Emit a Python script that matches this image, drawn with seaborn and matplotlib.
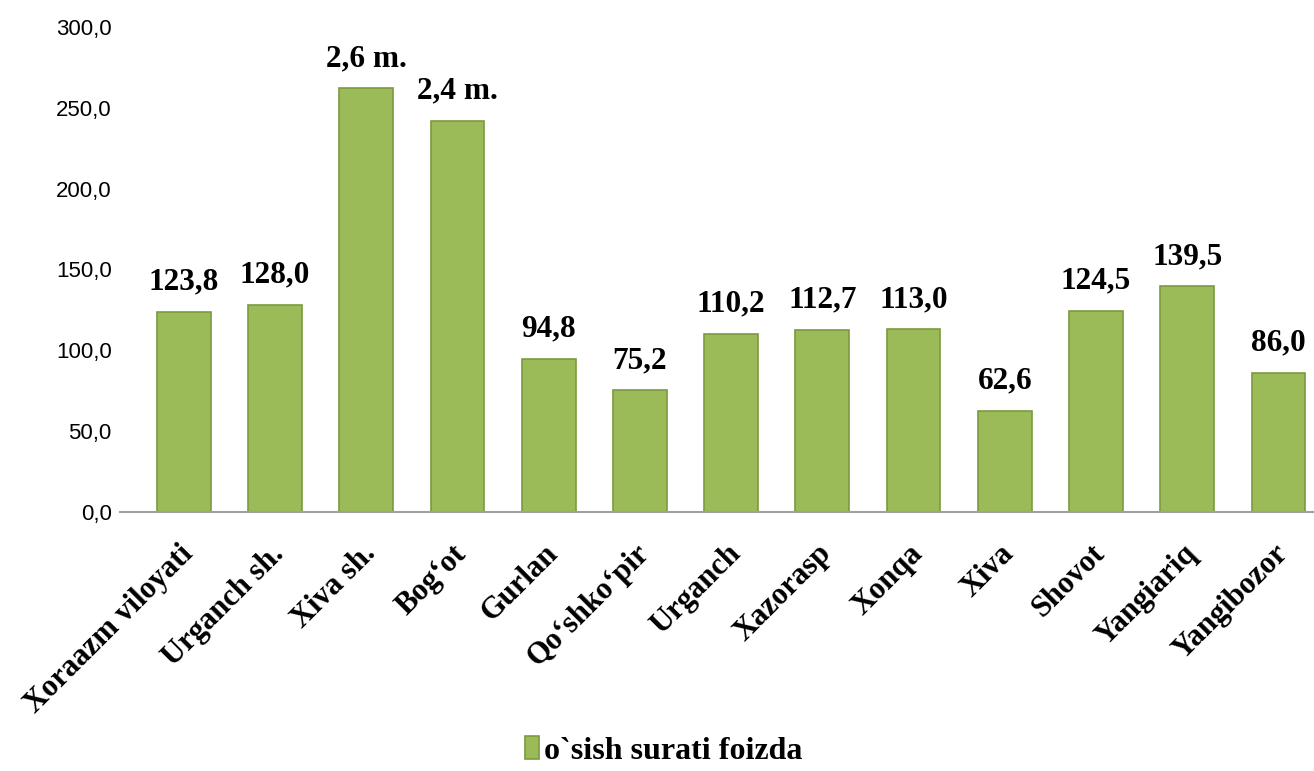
import pandas as pd
import seaborn as sns
import matplotlib.pyplot as plt
from matplotlib.patches import Patch
from matplotlib.ticker import FuncFormatter
from matplotlib.transforms import ScaledTranslation

regions = ["Xoraazm viloyati", "Urganch sh.", "Xiva sh.", "Bog‘ot", "Gurlan",
           "Qo‘shko‘pir", "Urganch", "Xazorasp", "Xonqa", "Xiva", "Shovot",
           "Yangiariq", "Yangibozor"]
growth = [123.8, 128.0, 262.0, 242.0, 94.8, 75.2, 110.2, 112.7, 113.0, 62.6,
          124.5, 139.5, 86.0]
bar_labels = ["123,8", "128,0", "2,6 m.", "2,4 m.", "94,8", "75,2", "110,2",
              "112,7", "113,0", "62,6", "124,5", "139,5", "86,0"]
series_name = "o`sish surati foizda"

df = pd.DataFrame({"region": regions, "growth": growth})

sns.set_style("white")
plt.rcParams['font.family'] = ['Liberation Serif', 'DejaVu Serif']
plt.rcParams['text.color'] = 'black'
plt.rcParams['xtick.color'] = 'black'
plt.rcParams['ytick.color'] = 'black'

fig = plt.figure(figsize=(13.14, 7.71), dpi=100)
ax = fig.add_axes([0.0913, 0.336, 0.9087, 0.629])

green = "#9BBB59"
edge = "#7A9A3E"
sns.barplot(data=df, x="region", y="growth", color=green, edgecolor=edge,
            linewidth=1.2, width=0.59, saturation=1, ax=ax)

ax.set_ylim(0, 300)
ax.set_yticks(range(0, 301, 50))
ax.yaxis.set_major_formatter(FuncFormatter(lambda v, p: f"{v:.1f}".replace(".", ",")))
for lab in ax.get_yticklabels():
    lab.set_fontfamily(['Liberation Sans', 'DejaVu Sans'])
    lab.set_fontsize(16)
    lab.set_color("black")
ax.tick_params(axis="y", length=0, pad=6)
ax.tick_params(axis="x", length=0, pad=27)

ax.set_xticks(range(len(regions)))
ax.set_xticklabels(regions, rotation=45, ha="right", va="center",
                   rotation_mode="anchor", fontsize=22, fontweight="bold")
shift = ScaledTranslation(0.05, 0, fig.dpi_scale_trans)
for lab in ax.get_xticklabels():
    lab.set_transform(lab.get_transform() + shift)

for s in ["top", "right", "left"]:
    ax.spines[s].set_visible(False)
ax.spines["bottom"].set_color("#A0A0A0")
ax.spines["bottom"].set_linewidth(1.5)
ax.set_xlabel("")
ax.set_ylabel("")
ax.set_xlim(-0.70, len(regions) - 0.61)

for i, (v, t) in enumerate(zip(growth, bar_labels)):
    ax.annotate(t, (i, v), xytext=(0, 11), textcoords="offset points",
                ha="center", va="bottom", fontsize=22.5, fontweight="bold")

handle = Patch(facecolor=green, edgecolor=edge, linewidth=1.2)
fig.legend([handle], [series_name], loc="center", bbox_to_anchor=(0.505, 0.026),
           frameon=False, prop={"size": 23, "weight": "bold"},
           handlelength=0.45, handleheight=0.75, handletextpad=0.15,
           borderpad=0.1)

fig.savefig("out.png", dpi=100)
